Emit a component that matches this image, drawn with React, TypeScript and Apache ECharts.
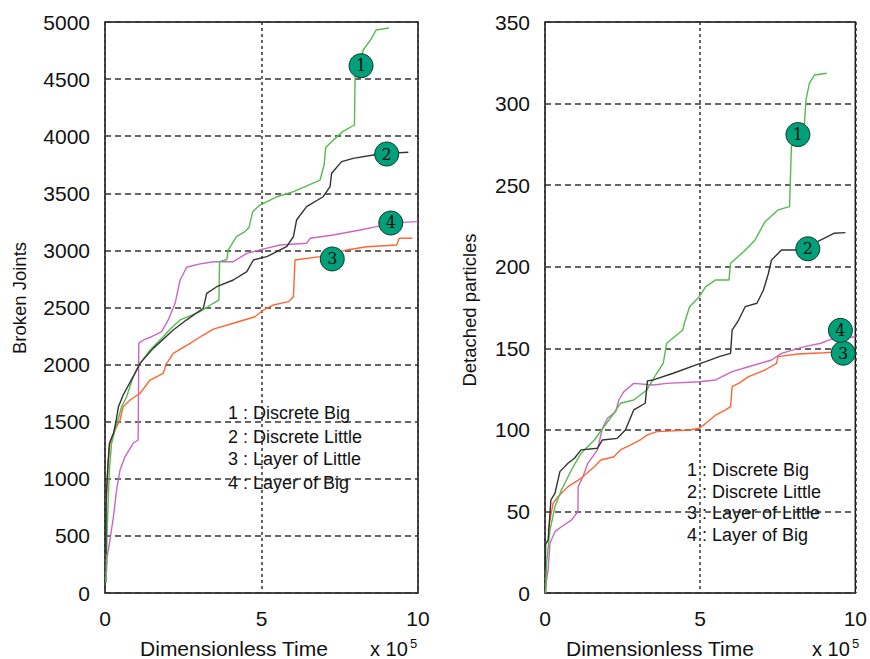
import React, { useEffect, useRef } from "react";
import * as echarts from "echarts";

// ---- Data (x in units of 10^5 dimensionless time) ----
const xTicks = [0, 5, 10];
const leftYTicksMax = 5000;
const rightYTicksMax = 350;

const legendLabels = ["1 : Discrete Big", "2 : Discrete Little", "3 : Layer of Little", "4 : Layer of Big"];

// Left panel: Broken Joints
const leftDiscreteBig = [
  [0.03, 90], [0.05, 300], [0.07, 552], [0.1, 800], [0.14, 1077], [0.21, 1311], [0.32, 1427], [0.43, 1530],
  [0.53, 1631], [0.69, 1719], [0.9, 1894], [1.12, 2011], [1.44, 2128], [1.86, 2244], [2.08, 2310], [2.4, 2391],
  [3.04, 2463], [3.46, 2537], [3.64, 2566], [3.66, 2901], [3.89, 2920], [3.94, 3004], [4.2, 3120], [4.47, 3164],
  [4.6, 3200], [4.72, 3339], [4.95, 3397], [5.5, 3470], [6.02, 3514], [6.87, 3616], [7.0, 3748], [7.05, 3900],
  [7.19, 3938], [7.59, 4040], [7.97, 4098], [7.99, 4521], [8.1, 4600], [8.25, 4755], [8.5, 4850], [8.66, 4930],
  [9.07, 4948],
];
const leftDiscreteLittle = [
  [0.03, 340], [0.04, 850], [0.1, 1150], [0.14, 1311], [0.27, 1398], [0.35, 1500], [0.43, 1631], [0.58, 1734],
  [0.9, 1894], [1.12, 2011], [1.54, 2142], [2.18, 2303], [2.6, 2390], [3.14, 2493], [3.25, 2624], [3.57, 2682],
  [4.1, 2741], [4.53, 2814], [4.74, 2916], [5.17, 2945], [5.8, 3032], [6.02, 3120], [6.12, 3266], [6.44, 3383],
  [6.97, 3470], [7.19, 3558], [7.24, 3675], [7.56, 3777], [7.93, 3806], [8.57, 3835], [9.0, 3850], [9.69, 3860],
];
const leftLayerOfLittle = [
  [0.03, 800], [0.05, 843], [0.1, 1136], [0.16, 1311], [0.32, 1427], [0.48, 1515], [0.58, 1631], [0.8, 1690],
  [1.12, 1749], [1.44, 1865], [1.86, 1924], [1.97, 2011], [2.18, 2099], [2.72, 2186], [3.14, 2259], [3.46, 2310],
  [4.1, 2362], [4.79, 2419], [5.06, 2478], [5.38, 2522], [5.86, 2551], [6.02, 2595], [6.07, 2916], [6.87, 2945],
  [7.72, 3004], [8.36, 3032], [9.32, 3047], [9.4, 3106], [9.82, 3106],
];
const leftLayerOfBig = [
  [0.03, 90], [0.07, 318], [0.15, 450], [0.27, 668], [0.37, 902], [0.48, 1077], [0.64, 1194], [0.9, 1311],
  [1.06, 1340], [1.08, 2186], [1.22, 2215], [1.49, 2244], [1.81, 2288], [2.02, 2391], [2.24, 2537], [2.4, 2741],
  [2.61, 2852], [3.0, 2880], [3.46, 2901], [4.1, 2901], [4.53, 2974], [4.95, 3004], [5.59, 3047], [6.44, 3062],
  [6.55, 3106], [7.29, 3135], [8.15, 3179], [8.68, 3208], [9.21, 3243], [10, 3252],
];
const leftMarkers = [
  [8.18, 4617, "1"], [9.0, 3844, "2"], [7.26, 2925, "3"], [9.13, 3240, "4"],
];

// Right panel: Detached particles
const rightDiscreteBig = [
  [0.02, 0], [0.05, 18], [0.16, 38.6], [0.32, 52.9], [0.53, 63.1], [0.85, 75.4], [1.16, 85.6], [1.59, 93.8],
  [1.9, 101.9], [2.22, 110.2], [2.43, 116.3], [2.86, 118.3], [3.28, 124.4], [3.6, 134.7], [3.81, 140.8],
  [3.92, 153.1], [4.44, 161.2], [4.5, 166], [4.66, 175.5], [4.97, 181.6], [5.18, 187.8], [5.5, 191.9],
  [5.93, 191.9], [5.98, 202.1], [6.4, 209.2], [6.77, 216.4], [7.09, 227.6], [7.51, 234.8], [7.88, 236.8],
  [7.94, 273.6], [8.36, 287.9], [8.41, 302.2], [8.52, 312.4], [8.68, 317.5], [9.08, 318.6],
];
const rightDiscreteLittle = [
  [0.01, 15], [0.02, 30], [0.1, 32.5], [0.19, 57], [0.32, 61.1], [0.48, 74.4], [0.74, 79.5], [0.95, 82.6],
  [1.16, 87.7], [1.69, 88.7], [1.85, 93.8], [2.33, 94.8], [2.59, 99.9], [2.86, 112.2], [3.23, 116.3],
  [3.3, 130], [3.49, 130.6], [4.13, 134.7], [4.87, 139.8], [5.18, 141.8], [5.61, 144.9], [5.98, 146.9],
  [6.03, 161.2], [6.24, 167.3], [6.45, 175.5], [6.83, 177.6], [7.04, 185.7], [7.2, 196], [7.3, 204.1],
  [7.62, 210.2], [8.15, 210.2], [8.68, 214.4], [8.99, 217.4], [9.31, 220.5], [9.68, 220.9],
];
const rightLayerOfLittle = [
  [0.1, 38], [0.16, 44.7], [0.26, 55], [0.42, 59], [0.74, 65.2], [1.16, 70.3], [1.59, 77.4], [1.8, 81.5],
  [2.22, 83.5], [2.43, 87.7], [2.75, 90.7], [3.07, 93.8], [3.28, 96.8], [3.6, 98.9], [4.66, 99.9], [4.97, 101],
  [5.18, 104], [5.5, 109.1], [5.82, 112.2], [5.98, 114.2], [6.03, 126.5], [6.24, 128.5], [6.56, 132.6],
  [7.09, 136.7], [7.46, 140.8], [7.51, 144.9], [8.15, 146.5], [8.99, 147.3], [9.58, 147.9],
];
const rightLayerOfBig = [
  [0.02, 0], [0.05, 8], [0.1, 14.1], [0.16, 30.5], [0.32, 37.6], [0.53, 40.6], [0.85, 44.7], [1.06, 49.8],
  [1.07, 65.2], [1.22, 71.3], [1.38, 79.5], [1.69, 87.7], [1.85, 101], [2.01, 107.1], [2.28, 111.1],
  [2.38, 118.3], [2.54, 123.4], [2.86, 128.5], [3.49, 127.5], [3.92, 128.5], [4.97, 129.5], [5.5, 130.6],
  [6.03, 135.7], [6.56, 138.7], [7.3, 142.8], [7.62, 146.9], [8.36, 151], [8.89, 153.1], [9.21, 155.5],
  [10, 157.1],
];
const rightMarkers = [
  [8.15, 281, "1"], [8.47, 211, "2"], [9.61, 147, "3"], [9.52, 161, "4"],
];

const FONT = "'Liberation Sans', Arial, Helvetica, sans-serif";
const COLORS = {
  big: "#55bb4f",
  little: "#333333",
  layerLittle: "#ff6633",
  layerBig: "#cc66c4",
};

export default function App() {
  const ref = useRef<HTMLDivElement | null>(null);

  useEffect(() => {
    if (!ref.current) return;
    const chart = echarts.init(ref.current, undefined, { renderer: "svg" });

    const grids = [
      { left: 105, top: 22, width: 313, height: 571 },
      { left: 545, top: 22, width: 314, height: 571 },
    ];

    const xAxisCommon = (gridIndex: number) => ({
      type: "value",
      gridIndex,
      min: xTicks[0],
      max: xTicks[xTicks.length - 1],
      interval: 5,
      axisLine: { show: false },
      axisTick: { show: false },
      axisLabel: { fontSize: 21, color: "#111", fontFamily: FONT, margin: 15, formatter: (v: number) => String(v) },
      splitLine: { show: true, lineStyle: { color: "#333", width: 1.5, type: [3, 3] } },
    });

    const yAxisCommon = (gridIndex: number, max: number, interval: number) => ({
      type: "value",
      gridIndex,
      min: 0,
      max,
      interval,
      axisLine: { show: false },
      axisTick: { show: false },
      axisLabel: { fontSize: 21, color: "#111", fontFamily: FONT, margin: 15, formatter: (v: number) => String(v) },
      splitLine: { show: true, lineStyle: { color: "#333", width: 1.5, type: [6, 4] } },
    });

    const lineSeries = (data: number[][], color: string, idx: number) => ({
      type: "line",
      xAxisIndex: idx,
      yAxisIndex: idx,
      data,
      showSymbol: false,
      symbol: "none",
      lineStyle: { color, width: 1.4 },
      z: 3,
    });

    const markerSeries = (data: any[], idx: number) => ({
      type: "scatter",
      xAxisIndex: idx,
      yAxisIndex: idx,
      data: data.map((d) => ({ value: [d[0], d[1]], name: d[2] })),
      symbol: "circle",
      symbolSize: 24,
      itemStyle: { color: "#00a07a", borderColor: "#0d3b2c", borderWidth: 1, opacity: 1 },
      label: {
        show: true,
        position: "inside",
        formatter: (p: any) => p.name,
        fontFamily: "'DejaVu Serif', 'Liberation Serif', serif",
        fontSize: 16,
        color: "#111",
      },
      z: 5,
    });

    const txt = (x: number, y: number, text: string, fontSize: number, extra: any = {}) => ({
      type: "text",
      x,
      y,
      z: 10,
      ...extra,
      style: {
        text,
        fontSize,
        fontFamily: FONT,
        fill: "#111",
        textAlign: extra.align || "left",
        textVerticalAlign: "middle",
        align: extra.align || "left",
        verticalAlign: "middle",
      },
    });

    const graphics: any[] = [
      txt(19, 298, "Broken Joints", 18.5, { rotation: Math.PI / 2, align: "center" }),
      txt(469, 310, "Detached particles", 18.5, { rotation: Math.PI / 2, align: "center" }),
      txt(234, 648, "Dimensionless Time", 21, { align: "center" }),
      txt(660, 648, "Dimensionless Time", 21, { align: "center" }),
      txt(370, 649, "x 10", 20),
      txt(410, 643, "5", 13),
      txt(812, 649, "x 10", 20),
      txt(852, 643, "5", 13),
    ];
    legendLabels.forEach((t, i) => {
      graphics.push(txt(228, [413, 437, 459, 483][i], t, 18));
      graphics.push(txt(687, [470, 492, 513, 535][i], t, 18));
    });

    chart.setOption({
      animation: false,
      backgroundColor: "#fff",
      grid: grids.map((g) => ({ ...g, show: true, borderColor: "#111", borderWidth: 1.5, backgroundColor: "transparent" })),
      xAxis: [xAxisCommon(0), xAxisCommon(1)],
      yAxis: [yAxisCommon(0, leftYTicksMax, 500), yAxisCommon(1, rightYTicksMax, 50)],
      series: [
        lineSeries(leftLayerOfBig, COLORS.layerBig, 0),
        lineSeries(leftLayerOfLittle, COLORS.layerLittle, 0),
        lineSeries(leftDiscreteBig, COLORS.big, 0),
        lineSeries(leftDiscreteLittle, COLORS.little, 0),
        markerSeries(leftMarkers, 0),
        lineSeries(rightLayerOfBig, COLORS.layerBig, 1),
        lineSeries(rightLayerOfLittle, COLORS.layerLittle, 1),
        lineSeries(rightDiscreteBig, COLORS.big, 1),
        lineSeries(rightDiscreteLittle, COLORS.little, 1),
        markerSeries(rightMarkers, 1),
      ],
      graphic: graphics,
    });

    return () => chart.dispose();
  }, []);

  return <div ref={ref} style={{ width: 870, height: 659, position: "absolute", left: 0, top: 0 }} />;
}
